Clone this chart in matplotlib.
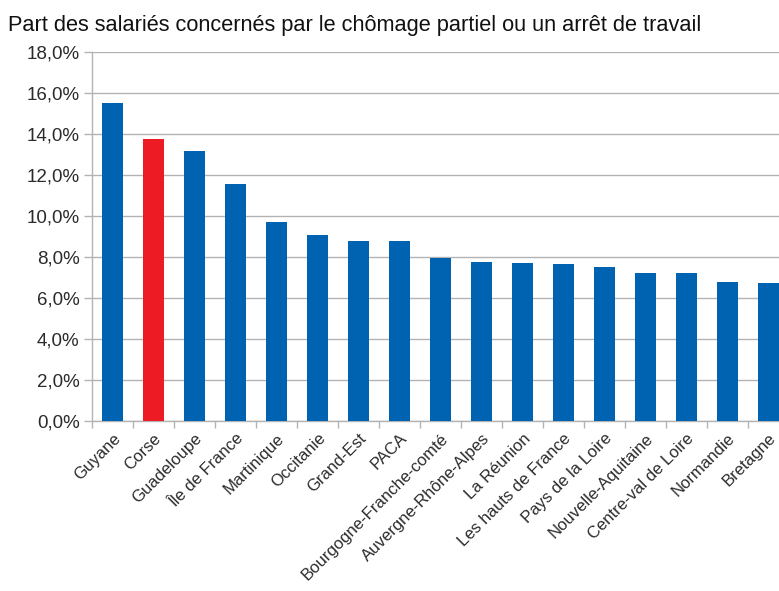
import matplotlib
matplotlib.use("Agg")
import matplotlib.pyplot as plt
from matplotlib.ticker import FuncFormatter, MultipleLocator, FixedLocator
import numpy as np

plt.rcParams['font.family'] = ['Liberation Sans', 'DejaVu Sans']

title = "Part des salariés concernés par le chômage partiel ou un arrêt de travail"
regions = ["Guyane", "Corse", "Guadeloupe", "Île de France", "Martinique", "Occitanie",
           "Grand-Est", "PACA", "Bourgogne-Franche-comté", "Auvergne-Rhône-Alpes",
           "La Réunion", "Les hauts de France", "Pays de la Loire", "Nouvelle-Aquitaine",
           "Centre-val de Loire", "Normandie", "Bretagne"]
values = [15.5, 13.74, 13.17, 11.55, 9.72, 9.07, 8.78, 8.76, 7.94, 7.77,
          7.69, 7.64, 7.51, 7.23, 7.23, 6.80, 6.72]
highlight = "Corse"

blue = "#0063b1"
red = "#ed1c24"
grid_c = "#b3b3b3"
text_c = "#2b2b2b"

fig = plt.figure(figsize=(7.79, 5.91), dpi=100)
ax = fig.add_axes([92/779, 170/591, 697/779, 369/591])

x = np.arange(len(regions))
colors = [red if r == highlight else blue for r in regions]
ax.bar(x, values, width=0.5, color=colors, zorder=3)

ax.set_xlim(-0.5, len(regions) - 0.5)
ax.set_ylim(0, 18)
ax.yaxis.set_major_locator(MultipleLocator(2))
ax.yaxis.set_major_formatter(FuncFormatter(lambda v, p: f"{v:.1f}%".replace('.', ',')))
ax.grid(axis='y', color=grid_c, linewidth=1, zorder=0)

ax.set_xticks(x)
ax.set_xticklabels(regions, rotation=45, ha='right', rotation_mode='anchor',
                   fontsize=12, color=text_c)
ax.xaxis.set_minor_locator(FixedLocator(np.arange(-0.5, len(regions), 1)))
ax.tick_params(axis='x', which='major', length=0, pad=7)
ax.tick_params(axis='x', which='minor', length=5, color=grid_c, width=1)
ax.tick_params(axis='y', length=6, color=grid_c, width=1, labelsize=13.5, labelcolor=text_c, pad=3)

for s in ['top', 'right']:
    ax.spines[s].set_visible(False)
for s in ['left', 'bottom']:
    ax.spines[s].set_color(grid_c)
    ax.spines[s].set_linewidth(1)

fig.text(8/779, 1 - 25/591, title, fontsize=15.7, color='#111111', va='center', ha='left')

fig.savefig("out.png", dpi=100)
